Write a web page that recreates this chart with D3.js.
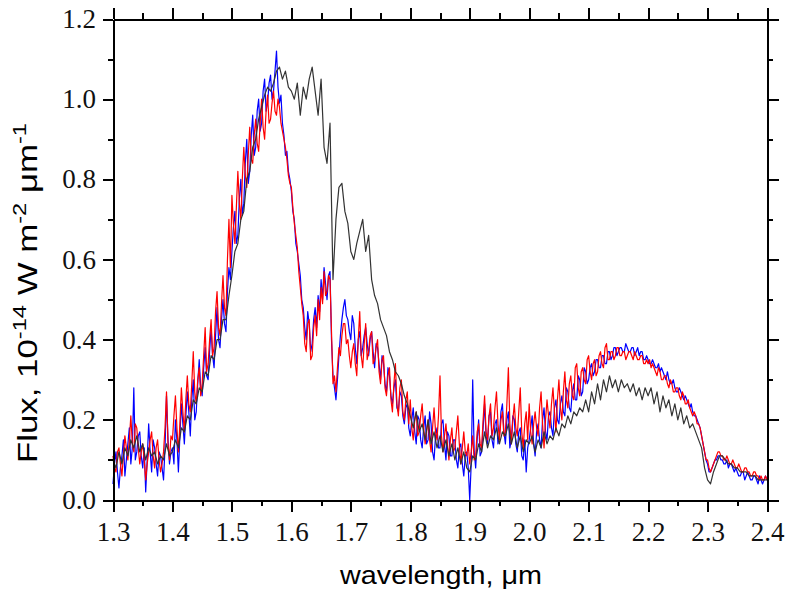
<!DOCTYPE html>
<html>
<head>
<meta charset="utf-8">
<script src="https://cdn.jsdelivr.net/npm/d3@7"></script>
<style>
  body { margin: 0; background: #fff; }
  svg { display: block; }
  .axis path, .axis line { stroke: #000; stroke-width: 2; shape-rendering: crispEdges; }
  .axis text { font-family: "Liberation Serif", "DejaVu Serif", serif; font-size: 27px; fill: #111; }
  .title { font-family: "Liberation Sans", Arial, sans-serif; fill: #000; }
</style>
</head>
<body>
<svg id="chart" width="786" height="602"></svg>
<script>
// wavelength grids, um: fine (0.0025) for blue/red, coarse (0.005) for grey
var wlFine = d3.range(441).map(function(i) { return +(1.3 + i * 0.0025).toFixed(4); });
var wlCoarse = d3.range(221).map(function(i) { return +(1.3 + i * 0.005).toFixed(3); });

// blue spectrum, 10^-14 W m^-2 um^-1 (one row per 0.1 um)
var fluxBlue = [
  0.04,0.09, 0.12,0.07, 0.03,0.08, 0.11,0.15, 0.06,0.10, 0.14,0.18, 0.09,0.13, 0.28,0.10, 0.12,0.16, 0.17,0.11, 0.08,0.13, 0.02,0.10, 0.19,0.12, 0.07,0.15, 0.13,0.09, 0.06,0.12, 0.11,0.08, 0.05,0.13, 0.26,0.15, 0.09,0.12,
  0.13,0.09, 0.20,0.15, 0.07,0.16, 0.24,0.19, 0.14,0.21, 0.27,0.22, 0.16,0.25, 0.30,0.20, 0.22,0.29, 0.35,0.28, 0.26,0.33, 0.38,0.31, 0.30,0.37, 0.43,0.36, 0.33,0.41, 0.48,0.40, 0.38,0.45, 0.50,0.44, 0.42,0.52, 0.58,0.55,
  0.62,0.68, 0.72,0.64, 0.66,0.75, 0.80,0.71, 0.74,0.84, 0.90,0.79, 0.82,0.91, 0.96,0.86, 0.88,0.97, 1.00,0.92, 0.94,1.02, 1.05,0.97, 0.99,1.04, 1.06,1.00, 1.02,1.07, 1.12,1.03, 0.99,1.01, 0.94,0.91, 0.86,0.87, 0.82,0.80,
  0.77,0.72, 0.70,0.64, 0.62,0.59, 0.56,0.50, 0.48,0.43, 0.40,0.47, 0.44,0.37, 0.39,0.45, 0.48,0.43, 0.51,0.47, 0.55,0.50, 0.58,0.54, 0.50,0.56, 0.57,0.40, 0.31,0.28, 0.25,0.30, 0.36,0.41, 0.45,0.48, 0.50,0.46, 0.45,0.42,
  0.40,0.46, 0.44,0.38, 0.34,0.40, 0.42,0.36, 0.38,0.41, 0.43,0.39, 0.36,0.40, 0.42,0.37, 0.33,0.39, 0.38,0.34, 0.30,0.36, 0.34,0.29, 0.27,0.33, 0.31,0.26, 0.24,0.28, 0.30,0.23, 0.22,0.27, 0.26,0.21, 0.19,0.23, 0.24,0.18,
  0.16,0.20, 0.23,0.17, 0.14,0.21, 0.20,0.15, 0.13,0.18, 0.21,0.14, 0.15,0.22, 0.19,0.12, 0.10,0.16, 0.18,0.13, 0.13,0.19, 0.20,0.14, 0.10,0.17, 0.16,0.11, 0.11,0.15, 0.15,0.10, 0.08,0.13, 0.14,0.09, 0.06,0.11, 0.12,0.08,
  0.00,0.09, 0.30,0.12, 0.08,0.15, 0.20,0.11, 0.12,0.18, 0.24,0.16, 0.14,0.21, 0.22,0.15, 0.13,0.19, 0.20,0.14, 0.16,0.22, 0.24,0.17, 0.14,0.20, 0.22,0.13, 0.15,0.21, 0.20,0.14, 0.12,0.17, 0.18,0.11, 0.10,0.15, 0.07,0.13,
  0.15,0.18, 0.21,0.14, 0.11,0.17, 0.19,0.15, 0.13,0.20, 0.23,0.17, 0.15,0.21, 0.22,0.18, 0.16,0.23, 0.25,0.20, 0.19,0.24, 0.26,0.22, 0.21,0.28, 0.27,0.23, 0.22,0.27, 0.29,0.25, 0.25,0.31, 0.30,0.26, 0.27,0.33, 0.32,0.29,
  0.30,0.33, 0.34,0.31, 0.32,0.35, 0.35,0.33, 0.33,0.36, 0.36,0.34, 0.34,0.37, 0.37,0.35, 0.36,0.38, 0.38,0.36, 0.37,0.38, 0.38,0.37, 0.37,0.39, 0.38,0.37, 0.37,0.38, 0.38,0.36, 0.37,0.38, 0.36,0.37, 0.37,0.35, 0.35,0.36,
  0.35,0.34, 0.34,0.35, 0.34,0.33, 0.33,0.34, 0.32,0.33, 0.32,0.31, 0.30,0.32, 0.30,0.29, 0.29,0.30, 0.28,0.27, 0.27,0.28, 0.27,0.26, 0.25,0.26, 0.25,0.24, 0.23,0.24, 0.22,0.21, 0.21,0.20, 0.19,0.18, 0.16,0.14, 0.12,0.10,
  0.09,0.07, 0.07,0.08, 0.09,0.10, 0.10,0.11, 0.11,0.10, 0.10,0.09, 0.09,0.10, 0.08,0.09, 0.09,0.08, 0.07,0.08, 0.07,0.06, 0.06,0.07, 0.07,0.05, 0.06,0.07, 0.06,0.05, 0.05,0.06, 0.06,0.05, 0.04,0.06, 0.05,0.04, 0.05,0.06,
  0.05
];

// red spectrum
var fluxRed = [
  0.11,0.08, 0.07,0.12, 0.13,0.09, 0.06,0.11, 0.16,0.13, 0.10,0.15, 0.21,0.14, 0.12,0.19, 0.18,0.13, 0.09,0.12, 0.14,0.10, 0.05,0.09, 0.12,0.15, 0.17,0.11, 0.08,0.13, 0.15,0.10, 0.07,0.09, 0.12,0.18, 0.27,0.14, 0.10,0.16,
  0.15,0.21, 0.26,0.18, 0.12,0.19, 0.28,0.22, 0.17,0.25, 0.31,0.24, 0.22,0.29, 0.37,0.27, 0.24,0.30, 0.33,0.26, 0.29,0.36, 0.43,0.32, 0.34,0.40, 0.45,0.36, 0.38,0.47, 0.52,0.43, 0.41,0.49, 0.56,0.48, 0.46,0.60, 0.70,0.58,
  0.76,0.69, 0.64,0.73, 0.82,0.74, 0.70,0.80, 0.88,0.81, 0.78,0.86, 0.93,0.85, 0.84,0.91, 0.95,0.89, 0.87,0.94, 1.00,0.93, 0.90,0.97, 1.01,0.94, 0.95,0.99, 1.02,0.97, 0.96,1.00, 0.98,0.94, 0.92,0.90, 0.88,0.85, 0.81,0.79,
  0.78,0.73, 0.69,0.66, 0.63,0.57, 0.53,0.49, 0.46,0.39, 0.37,0.44, 0.45,0.35, 0.36,0.43, 0.46,0.41, 0.50,0.45, 0.53,0.49, 0.57,0.51, 0.52,0.56, 0.55,0.42, 0.29,0.31, 0.27,0.33, 0.38,0.36, 0.41,0.44, 0.44,0.39, 0.40,0.36,
  0.33,0.37, 0.39,0.34, 0.31,0.40, 0.47,0.36, 0.33,0.39, 0.44,0.35, 0.37,0.41, 0.42,0.34, 0.35,0.38, 0.40,0.32, 0.29,0.35, 0.36,0.28, 0.26,0.31, 0.33,0.25, 0.22,0.29, 0.34,0.24, 0.21,0.28, 0.30,0.22, 0.20,0.25, 0.27,0.19,
  0.25,0.18, 0.15,0.20, 0.22,0.16, 0.17,0.21, 0.24,0.18, 0.14,0.17, 0.20,0.15, 0.12,0.18, 0.23,0.17, 0.15,0.21, 0.31,0.16, 0.12,0.16, 0.19,0.14, 0.10,0.15, 0.18,0.12, 0.13,0.17, 0.21,0.14, 0.09,0.13, 0.17,0.12, 0.11,0.14,
  0.09,0.12, 0.16,0.10, 0.11,0.17, 0.19,0.14, 0.13,0.20, 0.26,0.17, 0.15,0.21, 0.24,0.16, 0.18,0.23, 0.27,0.19, 0.15,0.20, 0.22,0.16, 0.17,0.24, 0.33,0.19, 0.14,0.20, 0.24,0.18, 0.16,0.22, 0.28,0.17, 0.13,0.19, 0.22,0.15,
  0.24,0.17, 0.14,0.19, 0.22,0.18, 0.16,0.23, 0.27,0.19, 0.13,0.20, 0.25,0.21, 0.18,0.24, 0.28,0.22, 0.17,0.25, 0.30,0.23, 0.20,0.27, 0.32,0.25, 0.23,0.29, 0.31,0.26, 0.25,0.33, 0.34,0.28, 0.26,0.32, 0.33,0.30, 0.29,0.35,
  0.36,0.32, 0.30,0.34, 0.35,0.31, 0.32,0.36, 0.37,0.34, 0.33,0.38, 0.39,0.35, 0.35,0.37, 0.37,0.35, 0.36,0.38, 0.38,0.36, 0.36,0.37, 0.37,0.35, 0.36,0.37, 0.37,0.36, 0.35,0.37, 0.36,0.35, 0.35,0.36, 0.36,0.34, 0.34,0.35,
  0.34,0.35, 0.33,0.34, 0.33,0.32, 0.31,0.33, 0.32,0.30, 0.30,0.31, 0.31,0.29, 0.28,0.30, 0.29,0.27, 0.27,0.28, 0.28,0.26, 0.25,0.27, 0.26,0.24, 0.24,0.25, 0.23,0.22, 0.21,0.22, 0.21,0.19, 0.19,0.18, 0.16,0.14, 0.12,0.10,
  0.10,0.08, 0.07,0.08, 0.09,0.10, 0.11,0.12, 0.12,0.11, 0.11,0.10, 0.10,0.11, 0.10,0.09, 0.09,0.10, 0.09,0.08, 0.08,0.09, 0.08,0.07, 0.07,0.08, 0.08,0.07, 0.07,0.06, 0.06,0.07, 0.07,0.06, 0.06,0.05, 0.06,0.05, 0.05,0.06,
  0.05
];

// dark grey spectrum (coarse grid)
var fluxGrey = [
  0.10, 0.08, 0.12, 0.09, 0.13, 0.11, 0.15, 0.13, 0.16, 0.12, 0.14, 0.10, 0.13, 0.11, 0.12, 0.09, 0.11, 0.10, 0.14, 0.11,
  0.12, 0.15, 0.13, 0.18, 0.17, 0.21, 0.20, 0.25, 0.24, 0.28, 0.27, 0.32, 0.31, 0.36, 0.35, 0.40, 0.40, 0.45, 0.45, 0.51,
  0.56, 0.62, 0.64, 0.70, 0.72, 0.80, 0.82, 0.88, 0.90, 0.95, 0.98, 1.01, 1.03, 1.02, 1.04, 1.07, 1.08, 1.05, 1.07, 1.03,
  1.02, 1.00, 1.04, 0.96, 1.03, 1.00, 1.05, 1.08, 1.02, 0.96, 1.05, 0.88, 0.84, 0.94, 0.55, 0.70, 0.78, 0.79, 0.72, 0.69,
  0.62, 0.60, 0.64, 0.67, 0.70, 0.62, 0.66, 0.55, 0.51, 0.49, 0.45, 0.43, 0.41, 0.37, 0.35, 0.32, 0.31, 0.29, 0.26, 0.24,
  0.21, 0.18, 0.22, 0.17, 0.19, 0.15, 0.20, 0.14, 0.17, 0.13, 0.16, 0.12, 0.15, 0.11, 0.14, 0.10, 0.13, 0.09, 0.12, 0.08,
  0.07, 0.11, 0.10, 0.14, 0.12, 0.17, 0.13, 0.16, 0.15, 0.18, 0.14, 0.17, 0.16, 0.19, 0.14, 0.17, 0.13, 0.16, 0.12, 0.15,
  0.14, 0.16, 0.12, 0.15, 0.13, 0.17, 0.14, 0.16, 0.15, 0.18, 0.16, 0.19, 0.18, 0.21, 0.19, 0.22, 0.21, 0.23, 0.22, 0.25,
  0.22, 0.27, 0.24, 0.29, 0.25, 0.30, 0.27, 0.31, 0.28, 0.30, 0.27, 0.30, 0.28, 0.29, 0.27, 0.29, 0.26, 0.28, 0.25, 0.28,
  0.26, 0.28, 0.24, 0.27, 0.22, 0.26, 0.23, 0.25, 0.21, 0.24, 0.20, 0.23, 0.19, 0.21, 0.18, 0.19, 0.17, 0.15, 0.13, 0.08,
  0.05, 0.04, 0.07, 0.09, 0.11, 0.11, 0.10, 0.09, 0.09, 0.08, 0.08, 0.07, 0.07, 0.07, 0.06, 0.06, 0.06, 0.05, 0.05, 0.05,
  0.05
];

var xMajorTicks = [1.3, 1.4, 1.5, 1.6, 1.7, 1.8, 1.9, 2.0, 2.1, 2.2, 2.3, 2.4];
var xMinorTicks = [1.35, 1.45, 1.55, 1.65, 1.75, 1.85, 1.95, 2.05, 2.15, 2.25, 2.35];
var yMajorTicks = [0.0, 0.2, 0.4, 0.6, 0.8, 1.0, 1.2];
var yMinorTicks = [0.1, 0.3, 0.5, 0.7, 0.9, 1.1];

var svg = d3.select('#chart');
var plotLeft = 113, plotRight = 767, plotTop = 19, plotBottom = 500;

var x = d3.scaleLinear().domain([1.3, 2.4]).range([plotLeft, plotRight]);
var y = d3.scaleLinear().domain([0, 1.2]).range([plotBottom, plotTop]);

//Draw spectra
var line = d3.line()
    .defined(function(d) { return d[1] != null; })
    .x(function(d) { return x(d[0]); })
    .y(function(d) { return y(d[1]); });

var series = [
    { grid: wlFine, values: fluxBlue, color: '#0000ff' },
    { grid: wlFine, values: fluxRed, color: '#ff0000' },
    { grid: wlCoarse, values: fluxGrey, color: '#333333' }
];
series.forEach(function(s) {
    var pts = s.grid.map(function(w, i) { return [w, s.values[i]]; });
    svg.append('path')
        .attr('d', line(pts))
        .attr('fill', 'none')
        .attr('stroke', s.color)
        .attr('stroke-width', 1.2)
        .attr('stroke-linejoin', 'round');
});

//Draw axis
var fmt = d3.format('.1f');
var addAxis = function(axis, tx, ty) {
    svg.append('g').attr('class', 'axis')
        .attr('transform', 'translate(' + tx + ',' + ty + ')')
        .call(axis.tickSizeOuter(0));
};
addAxis(d3.axisBottom(x).tickValues(xMajorTicks).tickFormat(fmt).tickSize(12).tickPadding(10), 0, plotBottom);
addAxis(d3.axisBottom(x).tickValues(xMinorTicks).tickFormat('').tickSize(6), 0, plotBottom);
addAxis(d3.axisTop(x).tickValues(xMajorTicks).tickFormat('').tickSize(11), 0, plotTop);
addAxis(d3.axisTop(x).tickValues(xMinorTicks).tickFormat('').tickSize(6), 0, plotTop);
addAxis(d3.axisLeft(y).tickValues(yMajorTicks).tickFormat(fmt).tickSize(10).tickPadding(7), plotLeft, 0);
addAxis(d3.axisLeft(y).tickValues(yMinorTicks).tickFormat('').tickSize(5), plotLeft, 0);
addAxis(d3.axisRight(y).tickValues(yMajorTicks).tickFormat('').tickSize(12), plotRight, 0);
addAxis(d3.axisRight(y).tickValues(yMinorTicks).tickFormat('').tickSize(6), plotRight, 0);

//Axis titles
svg.append('text').attr('class', 'title')
    .attr('x', 441).attr('y', 584)
    .attr('text-anchor', 'middle')
    .attr('font-size', 25)
    .attr('textLength', 202)
    .attr('lengthAdjust', 'spacingAndGlyphs')
    .text('wavelength, \u03bcm');

var yTitle = svg.append('text').attr('class', 'title')
    .attr('transform', 'translate(37,293) rotate(-90)')
    .attr('text-anchor', 'middle')
    .attr('font-size', 28)
    .attr('textLength', 340)
    .attr('lengthAdjust', 'spacingAndGlyphs');
yTitle.append('tspan').text('Flux, 10');
yTitle.append('tspan').attr('dy', -11).attr('font-size', 19).text('-14');
yTitle.append('tspan').attr('dy', 11).text(' W m');
yTitle.append('tspan').attr('dy', -11).attr('font-size', 19).text('-2');
yTitle.append('tspan').attr('dy', 11).text(' \u03bcm');
yTitle.append('tspan').attr('dy', -11).attr('font-size', 19).text('-1');
</script>
</body>
</html>
